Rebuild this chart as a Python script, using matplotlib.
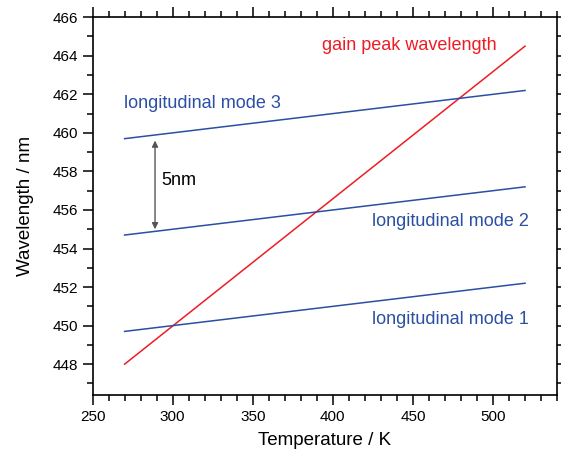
import matplotlib.pyplot as plt
from matplotlib.ticker import MultipleLocator

plt.rcParams['font.family'] = ['Liberation Sans', 'DejaVu Sans']

# line end points (temperature in K, wavelength in nm)
temp = [270, 520]
gain_peak = [448.0, 464.5]
mode1 = [449.7, 452.2]
mode2 = [454.7, 457.2]
mode3 = [459.7, 462.2]

red = '#ee1c25'
blue = '#2b4fa3'

fig = plt.figure(figsize=(5.61, 4.53), dpi=100)
ax = fig.add_axes([0.165, 0.128, 0.828, 0.834])

ax.plot(temp, gain_peak, color=red, linewidth=1.1)
ax.plot(temp, mode1, color=blue, linewidth=1.1)
ax.plot(temp, mode2, color=blue, linewidth=1.1)
ax.plot(temp, mode3, color=blue, linewidth=1.1)

# 5nm spacing arrow
ax.annotate('', xy=(289, 455.0), xytext=(289, 459.6),
            arrowprops=dict(arrowstyle='<|-|>', color='#555555', lw=1.0,
                            mutation_scale=9, shrinkA=0, shrinkB=0))
ax.text(293, 457.55, '5nm', fontsize=13, va='center', ha='left', color='black')

ax.text(393.4, 464.55, 'gain peak wavelength', color=red, fontsize=13, va='center')
ax.text(269.5, 461.5, 'longitudinal mode 3', color=blue, fontsize=13, va='center')
ax.text(424.5, 455.4, 'longitudinal mode 2', color=blue, fontsize=13, va='center')
ax.text(424.5, 450.3, 'longitudinal mode 1', color=blue, fontsize=13, va='center')

ax.set_xlim(250, 540)
ax.set_ylim(446.4, 466)
ax.xaxis.set_major_locator(MultipleLocator(50))
ax.xaxis.set_minor_locator(MultipleLocator(10))
ax.yaxis.set_major_locator(MultipleLocator(2))
ax.yaxis.set_minor_locator(MultipleLocator(1))
ax.tick_params(which='both', direction='out', top=True, right=True,
               labeltop=False, labelright=False, width=1.1)
ax.tick_params(which='major', length=7, labelsize=11)
ax.tick_params(which='minor', length=4)
for s in ax.spines.values():
    s.set_linewidth(1.2)

ax.set_xlabel('Temperature / K', fontsize=13.5, labelpad=6)
ax.set_ylabel('Wavelength / nm', fontsize=13.5, labelpad=13)

fig.savefig('out.png', dpi=100)
